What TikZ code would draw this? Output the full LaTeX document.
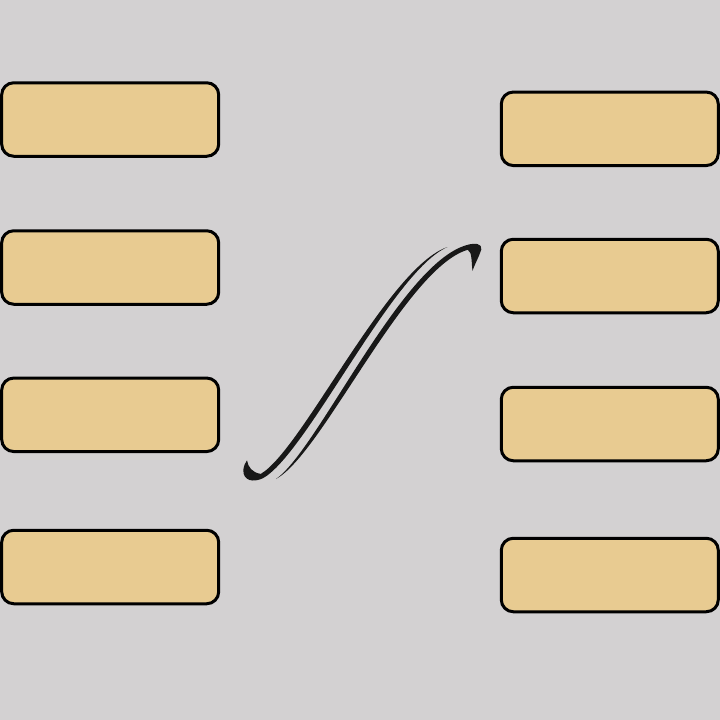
\documentclass[tikz,border=0pt]{standalone}
\definecolor{bgc}{RGB}{211,209,210}
\definecolor{boxc}{RGB}{232,203,145}
\definecolor{inkc}{RGB}{24,24,24}
\begin{document}
\begin{tikzpicture}[x=1pt,y=-1pt,
  card/.style={draw=black,fill=boxc,line width=3pt,rounded corners=12pt,
    minimum width=217pt,minimum height=73.5pt,inner sep=0pt}]
\fill[bgc] (0,0) rectangle (720,720);
\useasboundingbox (0,0) rectangle (720,720);
% left column
\node[card] (l1) at (110.2,119.5) {};
\node[card] (l2) at (110.2,267.5) {};
\node[card] (l3) at (110.2,414.8) {};
\node[card] (l4) at (110.2,567) {};
% right column
\node[card] (r1) at (609.8,128.8) {};
\node[card] (r2) at (609.8,276) {};
\node[card] (r3) at (609.8,424) {};
\node[card] (r4) at (609.8,575) {};
% swoosh, left stroke (tapers toward its top end)
\fill[inkc] (260.8,473.9) .. controls (302.6,449.2) and (387.6,267.2) .. (447.5,247)
  .. controls (392.4,270.8) and (307.4,452.8) .. (263.2,478.1)
  .. controls (254,482.5) and (243,481.5) .. (243.3,470)
  .. controls (243.8,466) and (245,463) .. (247,460.3)
  .. controls (248,467) and (252,472.5) .. (260.8,473.9) -- cycle;
% swoosh, right stroke (tapers toward its bottom end)
\fill[inkc] (276,479) .. controls (317.6,450.2) and (400.6,264.2) .. (466.3,245.2)
  .. controls (475,242.5) and (482.5,243.5) .. (481.3,249.5)
  .. controls (479.3,256) and (475.3,263) .. (472.5,270.8)
  .. controls (471.3,262) and (472.3,252) .. (467.7,249.8)
  .. controls (405.4,267.8) and (322.4,453.8) .. (276,479) -- cycle;
\end{tikzpicture}
\end{document}
